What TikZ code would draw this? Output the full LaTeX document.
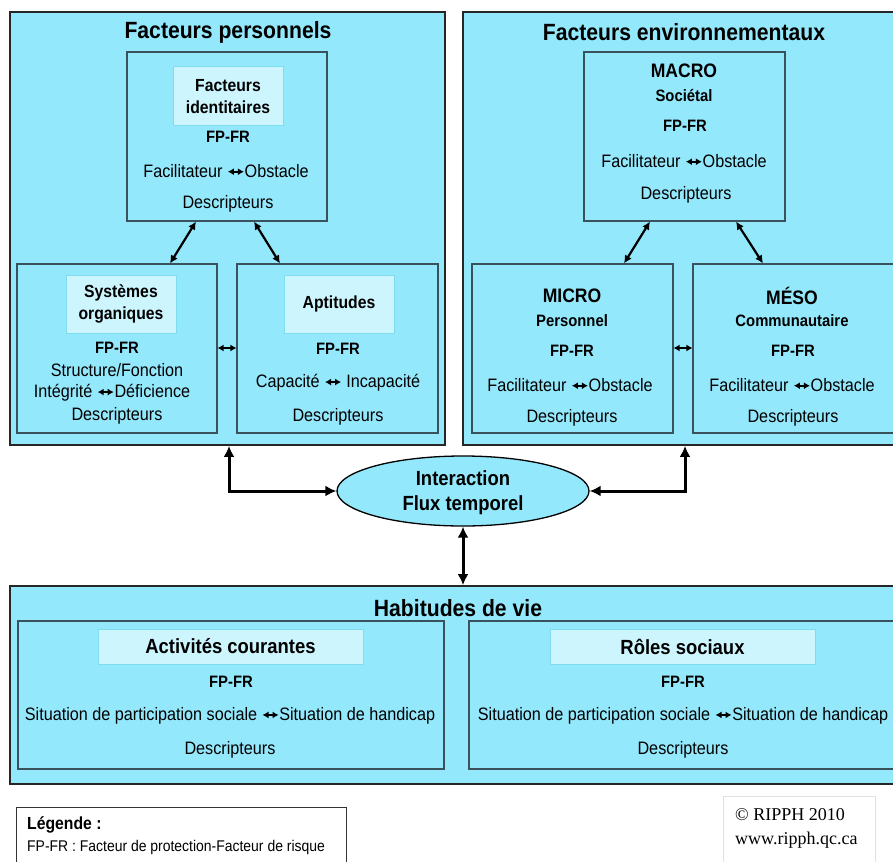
\documentclass[tikz,border=0pt]{standalone}
\usepackage{fontspec}
\setmainfont{Liberation Sans}[FakeStretch=0.9]
\newfontfamily\serifc{Liberation Serif}
\usetikzlibrary{arrows.meta,shapes.geometric,calc}
\definecolor{cy}{HTML}{94E8FC}
\definecolor{lc}{HTML}{CDF5FD}
\definecolor{lb}{HTML}{7FDCF0}
\definecolor{ib}{HTML}{3A525C}
\newcommand\dbl{\tikz[baseline=-0.6ex,x=1pt,y=1pt]\draw[line width=1.6pt,{Latex[length=6pt,width=7pt]}-{Latex[length=6pt,width=7pt]}] (0,0)--(16,0);}
\begin{document}
\begin{tikzpicture}[x=1pt,y=-1pt,
  outer/.style={draw=black!85,line width=1.8pt,fill=cy,rectangle,inner sep=0},
  inner/.style={draw=ib,line width=1.1pt,fill=cy,rectangle,inner sep=0},
  head/.style={draw=lb,line width=1pt,fill=lc,rectangle,inner sep=0,align=center,font=\bfseries\fontsize{17.5}{22}\selectfont},
  txt/.style={inner sep=0,font=\fontsize{18}{20}\selectfont},
  btxt/.style={inner sep=0,font=\bfseries\fontsize{18}{20}\selectfont},
  stxt/.style={inner sep=0,font=\bfseries\fontsize{16.5}{20}\selectfont},
  ttl/.style={inner sep=0,font=\bfseries\fontsize{23.5}{26}\selectfont},
  diag/.style={line width=2.2pt,{Latex[length=8pt,width=8pt]}-{Latex[length=8pt,width=8pt]}},
  small/.style={line width=1.6pt,{Latex[length=6pt,width=7pt]}-{Latex[length=6pt,width=7pt]}},
  thick arrow/.style={line width=3pt,{Latex[length=11pt,width=11pt]}-{Latex[length=11pt,width=11pt]}}
]
\useasboundingbox (0,0) rectangle (893,861);
\fill[white] (0,0) rectangle (893,861);
\clip (0,0) rectangle (893,861);

% outer boxes
\node[outer,minimum width=435pt,minimum height=433pt] (pers) at (227.5,228.5) {};
\node[outer,minimum width=442pt,minimum height=433pt] (env) at (684,228.5) {};
\node[outer,minimum width=895pt,minimum height=198pt] (hab) at (457.5,685) {};

\node[ttl] (persT) at (228,32) {Facteurs personnels};
\node[ttl] (envT) at (684,32) {Facteurs environnementaux};
\node[ttl] (habT) at (458,608) {Habitudes de vie};

% personal factors
\node[inner,minimum width=200pt,minimum height=169pt] (ident) at (227,136.5) {};
\node[head,minimum width=110pt,minimum height=59pt] (identH) at (228,96.5) {Facteurs\\identitaires};
\node[stxt] (identF) at (228,137) {FP-FR};
\node[txt] (identA) at (226,171) {Facilitateur \dbl Obstacle};
\node[txt] (identD) at (228,204) {Descripteurs};

\node[inner,minimum width=200pt,minimum height=169pt] (sys) at (117,348.5) {};
\node[head,minimum width=110pt,minimum height=58pt] (sysH) at (121,304) {Systèmes\\organiques};
\node[stxt] (sysF) at (117,348) {FP-FR};
\node[txt] (sysS) at (117,370) {Structure/Fonction};
\node[txt] (sysA) at (112,393) {Intégrité \dbl Déficience};
\node[txt] (sysD) at (117,416) {Descripteurs};

\node[inner,minimum width=201pt,minimum height=169pt] (apt) at (337.5,348.5) {};
\node[head,minimum width=110pt,minimum height=58pt] (aptH) at (339,304) {Aptitudes};
\node[stxt] (aptF) at (338,349) {FP-FR};
\node[txt] (aptA) at (338,383) {Capacité \dbl{} Incapacité};
\node[txt] (aptD) at (338,417) {Descripteurs};

% environmental factors
\node[inner,minimum width=201pt,minimum height=169pt] (macro) at (684.5,136.5) {};
\node[btxt,font=\bfseries\fontsize{19.5}{22}\selectfont] (macroT) at (684,71) {MACRO};
\node[stxt] (macroS) at (684,96) {Sociétal};
\node[stxt] (macroF) at (685,126) {FP-FR};
\node[txt] (macroA) at (684,161) {Facilitateur \dbl Obstacle};
\node[txt] (macroD) at (686,195) {Descripteurs};

\node[inner,minimum width=201pt,minimum height=169pt] (micro) at (572.5,348.5) {};
\node[btxt,font=\bfseries\fontsize{19.5}{22}\selectfont] (microT) at (572,296) {MICRO};
\node[stxt] (microS) at (572,321) {Personnel};
\node[stxt] (microF) at (572,351) {FP-FR};
\node[txt] (microA) at (570,385) {Facilitateur \dbl Obstacle};
\node[txt] (microD) at (572,418) {Descripteurs};

\node[inner,minimum width=201pt,minimum height=169pt] (meso) at (793.5,348.5) {};
\node[btxt,font=\bfseries\fontsize{19.5}{22}\selectfont] (mesoT) at (792,296) {MÉSO};
\node[stxt] (mesoS) at (792,321) {Communautaire};
\node[stxt] (mesoF) at (793,351) {FP-FR};
\node[txt] (mesoA) at (792,385) {Facilitateur \dbl Obstacle};
\node[txt] (mesoD) at (793,418) {Descripteurs};

% interaction
\node[ellipse,draw=black,line width=1.3pt,fill=cy,minimum width=252pt,minimum height=70pt,inner sep=0] (flux) at (463,491) {};
\node[btxt,font=\bfseries\fontsize{20.5}{22}\selectfont] (fluxA) at (463,478) {Interaction};
\node[btxt,font=\bfseries\fontsize{20.5}{22}\selectfont] (fluxB) at (463,505) {Flux temporel};

% habits
\node[inner,minimum width=426pt,minimum height=148pt] (act) at (231,695) {};
\node[head,font=\bfseries\fontsize{20.5}{22}\selectfont,minimum width=265pt,minimum height=35pt] (actH) at (230.5,646.5) {Activités courantes};
\node[stxt] (actF) at (231,682) {FP-FR};
\node[txt] (actA) at (230,716) {Situation de participation sociale \dbl Situation de handicap};
\node[txt] (actD) at (230,750) {Descripteurs};

\node[inner,minimum width=428pt,minimum height=148pt] (roles) at (683,695) {};
\node[head,font=\bfseries\fontsize{20.5}{22}\selectfont,minimum width=265pt,minimum height=35pt] (rolesH) at (682.5,646.5) {Rôles sociaux};
\node[stxt] (rolesF) at (683,682) {FP-FR};
\node[txt] (rolesA) at (683,716) {Situation de participation sociale \dbl Situation de handicap};
\node[txt] (rolesD) at (683,750) {Descripteurs};

% legend & copyright
\node[draw=black!80,line width=1pt,minimum width=330pt,minimum height=63pt,inner sep=0] (leg) at (181,838.5) {};
\node[inner sep=0,anchor=west,font=\bfseries\fontsize{17.5}{20}\selectfont] (legT) at (27,825) {Légende :};
\node[inner sep=0,anchor=west,font=\fontsize{15.5}{18}\selectfont] (legL) at (27,847) {FP-FR : Facteur de protection-Facteur de risque};
\node[draw=black!12,line width=1pt,minimum width=152pt,minimum height=74pt,inner sep=0] (copy) at (799,833) {};
\node[inner sep=0,anchor=west,font=\serifc\fontsize{18}{20}\selectfont] (copyA) at (735,815) {© RIPPH 2010};
\node[inner sep=0,anchor=west,font=\serifc\fontsize{18}{20}\selectfont] (copyB) at (735,840) {www.ripph.qc.ca};

% connectors
\draw[diag] ([xshift=-31pt]ident.south) -- ([xshift=53pt]sys.north);
\draw[diag] ([xshift=27pt]ident.south) -- ([xshift=-57.5pt]apt.north);
\draw[small] (sys.east |- sysF) -- (apt.west |- sysF);
\draw[diag] ([xshift=-34.5pt]macro.south) -- ([xshift=51.5pt]micro.north);
\draw[diag] ([xshift=51.5pt]macro.south) -- ([xshift=-30.5pt]meso.north);
\draw[small] (micro.east |- sysF) -- (meso.west |- sysF);
\draw[thick arrow] ([xshift=1.5pt]pers.south) |- (flux.west);
\draw[thick arrow] ([xshift=1pt]env.south) |- (flux.east);
\draw[thick arrow] (flux.south) -- (flux.south |- hab.north);
\end{tikzpicture}
\end{document}
